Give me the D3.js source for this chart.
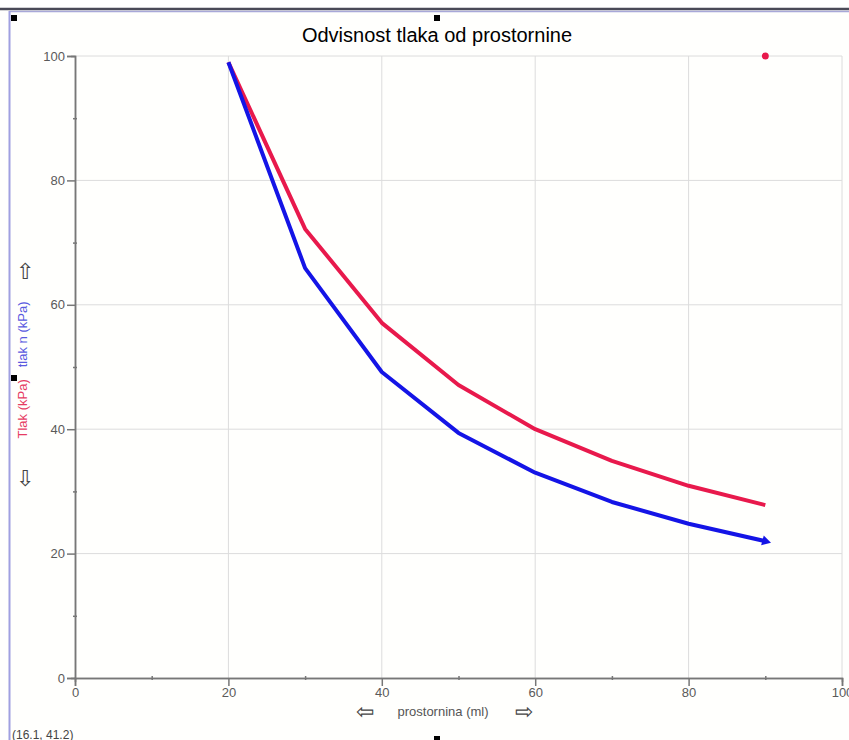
<!DOCTYPE html>
<html>
<head>
<meta charset="utf-8">
<script src="https://cdn.jsdelivr.net/npm/d3@7"></script>
<style>
  body { margin: 0; background: #fff; }
  svg { display: block; font-family: "Liberation Sans", Arial, sans-serif; }
</style>
</head>
<body>
<div id="chart-area"></div>
<script>
// data
const volume = [20, 30, 40, 50, 60, 70, 80, 90];
const tlak = [99, 72.2, 57.1, 47.1, 40, 34.9, 30.9, 27.8];
const tlakN = [99, 65.9, 49.2, 39.4, 33, 28.3, 24.8, 22];
const xTicks = [0, 20, 40, 60, 80, 100];
const yTicks = [0, 20, 40, 60, 80, 100];
const redMarker = [90, 100];

const W = 849, H = 740;
const margin = {top: 56, right: 7, bottom: 62, left: 75},
    width = W - margin.left - margin.right,
    height = H - margin.top - margin.bottom;

const svg = d3.select("#chart-area")
  .append("svg")
    .attr("width", W)
    .attr("height", H);

// frame
svg.append("rect").attr("x", 0).attr("y", 0).attr("width", W).attr("height", H).attr("fill", "#fffffd");
svg.append("rect").attr("x", 0).attr("y", 0).attr("width", W).attr("height", 9).attr("fill", "#ffffff");
svg.append("line").attr("x1", 0).attr("x2", W).attr("y1", 9).attr("y2", 9)
  .attr("stroke", "#4a4a58").attr("stroke-width", 2.5);
svg.append("line").attr("x1", 9).attr("x2", W).attr("y1", 11.5).attr("y2", 11.5)
  .attr("stroke", "#a8a8d8").attr("stroke-width", 1.5);
svg.append("line").attr("x1", 9.5).attr("x2", 9.5).attr("y1", 11).attr("y2", H)
  .attr("stroke", "#a0a0e0").attr("stroke-width", 2);

// small black handles
[[14, 18], [437, 18], [14, 378], [437, 739]].forEach(p => {
  svg.append("rect").attr("x", p[0] - 3).attr("y", p[1] - 3).attr("width", 6).attr("height", 6).attr("fill", "#000");
});

const g = svg.append("g").attr("transform", `translate(${margin.left}, ${margin.top})`);

const x = d3.scaleLinear().domain([0, 100]).range([0, width]);
const y = d3.scaleLinear().domain([0, 100]).range([height, 0]);

// grid
g.append("g")
  .selectAll("line")
  .data(xTicks.slice(1))
  .enter().append("line")
    .attr("x1", d => x(d)).attr("x2", d => x(d))
    .attr("y1", 0).attr("y2", height)
    .attr("stroke", "#dcdcdc");
g.append("g")
  .selectAll("line")
  .data(yTicks.slice(1))
  .enter().append("line")
    .attr("x1", 0).attr("x2", width)
    .attr("y1", d => y(d)).attr("y2", d => y(d))
    .attr("stroke", "#dcdcdc");

// axes
const xAxis = g.append("g")
  .attr("transform", `translate(0, ${height})`)
  .call(d3.axisBottom(x).tickValues(xTicks).tickSize(8).tickPadding(2));
const xMinor = g.append("g")
  .attr("transform", `translate(0, ${height})`)
  .call(d3.axisBottom(x).tickValues(d3.range(10, 100, 20)).tickSize(4).tickFormat(""));
const yAxis = g.append("g")
  .call(d3.axisLeft(y).tickValues(yTicks).tickSize(8).tickPadding(2));
const yMinor = g.append("g")
  .call(d3.axisLeft(y).tickValues(d3.range(10, 100, 20)).tickSize(4).tickFormat(""));

[xAxis, xMinor, yAxis, yMinor].forEach(a => {
  a.select(".domain").attr("stroke", "#777").attr("stroke-width", 1.5);
  a.selectAll(".tick line").attr("stroke", "#777").attr("stroke-width", 1.5);
  a.selectAll(".tick text").attr("fill", "#5a5a5a").style("font-size", "13px");
});
xMinor.selectAll(".tick line").attr("transform", "translate(0,-2)");
yMinor.selectAll(".tick line").attr("transform", "translate(2,0)");

// lines
const line = d3.line().x(d => x(d[0])).y(d => y(d[1]));

g.append("path")
  .datum(volume.map((v, i) => [v, tlak[i]]))
  .attr("fill", "none")
  .attr("stroke", "#e8194c")
  .attr("stroke-width", 4)
  .attr("stroke-linejoin", "round")
  .attr("d", line);

g.append("path")
  .datum(volume.map((v, i) => [v, tlakN[i]]))
  .attr("fill", "none")
  .attr("stroke", "#1414e6")
  .attr("stroke-width", 4)
  .attr("stroke-linejoin", "round")
  .attr("d", line);

// end triangle on blue line
const last = volume.length - 1;
g.append("path")
  .attr("d", d3.symbol().type(d3.symbolTriangle).size(45))
  .attr("transform", `translate(${x(volume[last])}, ${y(tlakN[last])}) rotate(105)`)
  .attr("fill", "#1414e6");

// red dot at top
g.append("circle")
  .attr("cx", x(redMarker[0])).attr("cy", y(redMarker[1]))
  .attr("r", 3.5).attr("fill", "#e8194c");

// title
svg.append("text")
  .attr("x", 437).attr("y", 42)
  .attr("text-anchor", "middle")
  .style("font-size", "20px")
  .attr("fill", "#000")
  .text("Odvisnost tlaka od prostornine");

// y label
const yl = svg.append("text")
  .attr("transform", "translate(27, 370) rotate(-90)")
  .attr("text-anchor", "middle")
  .style("font-size", "13px");
yl.append("tspan").attr("fill", "#e63c64").text("Tlak (kPa)");
yl.append("tspan").attr("fill", "#5a5ae0").attr("dx", 12).text("tlak n (kPa)");

svg.append("text").attr("x", 25).attr("y", 279).attr("text-anchor", "middle")
  .style("font-size", "22px").attr("fill", "#444").text("⇧");
svg.append("text").attr("x", 25).attr("y", 486).attr("text-anchor", "middle")
  .style("font-size", "22px").attr("fill", "#444").text("⇩");

// x label
svg.append("text")
  .attr("x", 443).attr("y", 716)
  .attr("text-anchor", "middle")
  .style("font-size", "13px")
  .attr("fill", "#555")
  .text("prostornina (ml)");
svg.append("text").attr("x", 365).attr("y", 719).attr("text-anchor", "middle")
  .style("font-size", "22px").attr("fill", "#444").text("⇦");
svg.append("text").attr("x", 524).attr("y", 719).attr("text-anchor", "middle")
  .style("font-size", "22px").attr("fill", "#444").text("⇨");

// coordinates readout
svg.append("text")
  .attr("x", 12).attr("y", 739)
  .style("font-size", "12px")
  .attr("fill", "#444")
  .text("(16.1, 41.2)");
</script>
</body>
</html>
